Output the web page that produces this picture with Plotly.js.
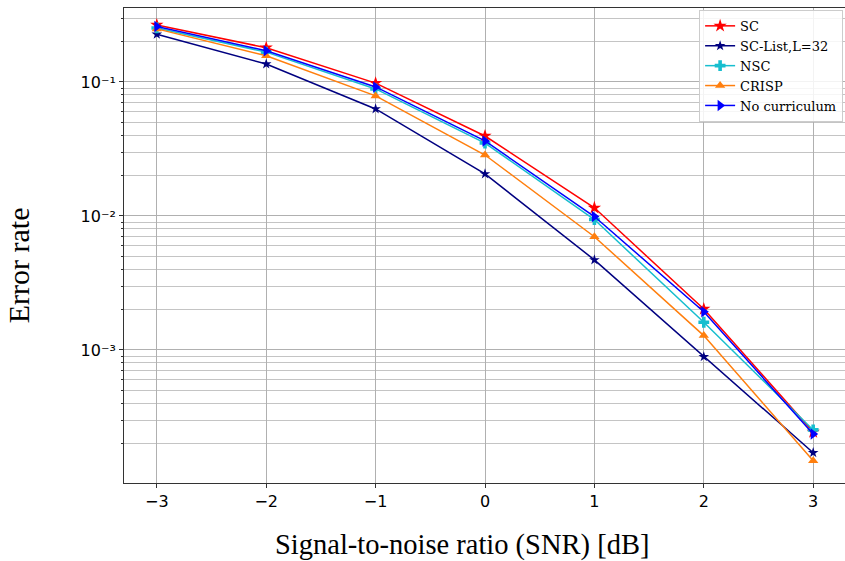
<!DOCTYPE html>
<html><head><meta charset="utf-8">
<script src="https://cdn.plot.ly/plotly-3.0.1.min.js"></script>
<style>html,body{margin:0;padding:0;overflow:hidden;background:#fff}</style>
</head><body><div id="chart"></div>
<script>
const snr = [-3, -2, -1, 0, 1, 2, 3];
const sc = [0.266, 0.180, 0.098, 0.0395, 0.0115, 0.00202, 0.000244];
const scList = [0.227, 0.136, 0.0629, 0.0206, 0.0047, 0.00089, 0.000171];
const nsc = [0.253, 0.167, 0.0887, 0.0350, 0.0094, 0.00161, 0.000253];
const crisp = [0.249, 0.157, 0.0787, 0.0285, 0.0070, 0.00128, 0.000149];
const noCurr = [0.259, 0.171, 0.0918, 0.0363, 0.0099, 0.00193, 0.000236];
const names = ['SC', 'SC-List,L=32', 'NSC', 'CRISP', 'No curriculum'];
const yTickVals = [0.1, 0.01, 0.001];
const yTickText = ['10⁻¹', '10⁻²', '10⁻³'];
const xTickVals = [-3, -2, -1, 0, 1, 2, 3];
const xTickText = ['−3', '−2', '−1', '0', '1', '2', '3'];
const xTitle = 'Signal-to-noise ratio (SNR) [dB]';
const yTitle = 'Error rate';
const decades = [0.0001, 0.001, 0.01, 0.1];
const minorMult = [2, 3, 4, 5, 6, 7, 8, 9];
const minorVals = [];
decades.forEach(d => minorMult.forEach(m => minorVals.push(d * m)));

const series = [
  {y: sc, name: names[0], color: '#ff0000', symbol: 'star', size: 10},
  {y: scList, name: names[1], color: '#000080', symbol: 'star', size: 8},
  {y: nsc, name: names[2], color: '#17becf', symbol: 'cross', size: 9},
  {y: crisp, name: names[3], color: '#ff7f0e', symbol: 'triangle-up', size: 9},
  {y: noCurr, name: names[4], color: '#0000ff', symbol: 'triangle-right', size: 10}
];
const traces = series.map(s => ({
  x: snr, y: s.y, name: s.name, type: 'scatter', mode: 'lines+markers',
  line: {color: s.color, width: 1.5},
  marker: {color: s.color, symbol: s.symbol, size: s.size, line: {width: 0}}
}));

const layout = {
  width: 847, height: 561,
  margin: {l: 124, r: 1, t: 8, b: 78},
  paper_bgcolor: '#fff', plot_bgcolor: '#fff',
  showlegend: true,
  font: {family: 'DejaVu Sans', color: '#000'},
  xaxis: {
    range: [-3.3, 3.3], tickvals: xTickVals, ticktext: xTickText,
    showgrid: true, gridcolor: '#b0b0b0', gridwidth: 1,
    zeroline: false, showline: true, linecolor: '#333', linewidth: 1, mirror: true,
    ticks: 'outside', ticklen: 4, tickcolor: '#333',
    tickfont: {family: 'DejaVu Sans', size: 16, color: '#000'}
  },
  yaxis: {
    type: 'log', range: [-3.993, -0.448],
    tickvals: yTickVals, ticktext: yTickText,
    showgrid: true, gridcolor: '#b0b0b0', gridwidth: 1,
    minor: {tickmode: 'array', tickvals: minorVals, showgrid: true, gridcolor: '#c4c4c4', gridwidth: 1, ticks: 'outside', ticklen: 2, tickcolor: '#333'},
    zeroline: false, showline: true, linecolor: '#333', linewidth: 1, mirror: true,
    ticks: 'outside', ticklen: 4, tickcolor: '#333',
    tickfont: {family: 'DejaVu Sans', size: 16, color: '#000'}
  },
  annotations: [
    {text: xTitle, xref: 'paper', yref: 'paper', x: 0.468, y: -0.13, xanchor: 'center', yanchor: 'middle', showarrow: false,
     font: {family: 'Liberation Serif, DejaVu Serif, serif', size: 28.5, color: '#000'}},
    {text: yTitle, xref: 'paper', yref: 'paper', x: -0.145, y: 0.459, xanchor: 'center', yanchor: 'middle', showarrow: false, textangle: -90,
     font: {family: 'Liberation Serif, DejaVu Serif, serif', size: 30, color: '#000'}}
  ],
  legend: {
    x: 0.996, y: 0.996, xanchor: 'right', yanchor: 'top',
    bgcolor: 'rgba(255,255,255,0.85)', bordercolor: '#cccccc', borderwidth: 1,
    font: {family: 'DejaVu Serif, Liberation Serif, serif', size: 13, color: '#000'},
    itemwidth: 30, tracegroupgap: 0
  }
};
Plotly.newPlot('chart', traces, layout, {displayModeBar: false, staticPlot: true});
</script>
</body></html>
